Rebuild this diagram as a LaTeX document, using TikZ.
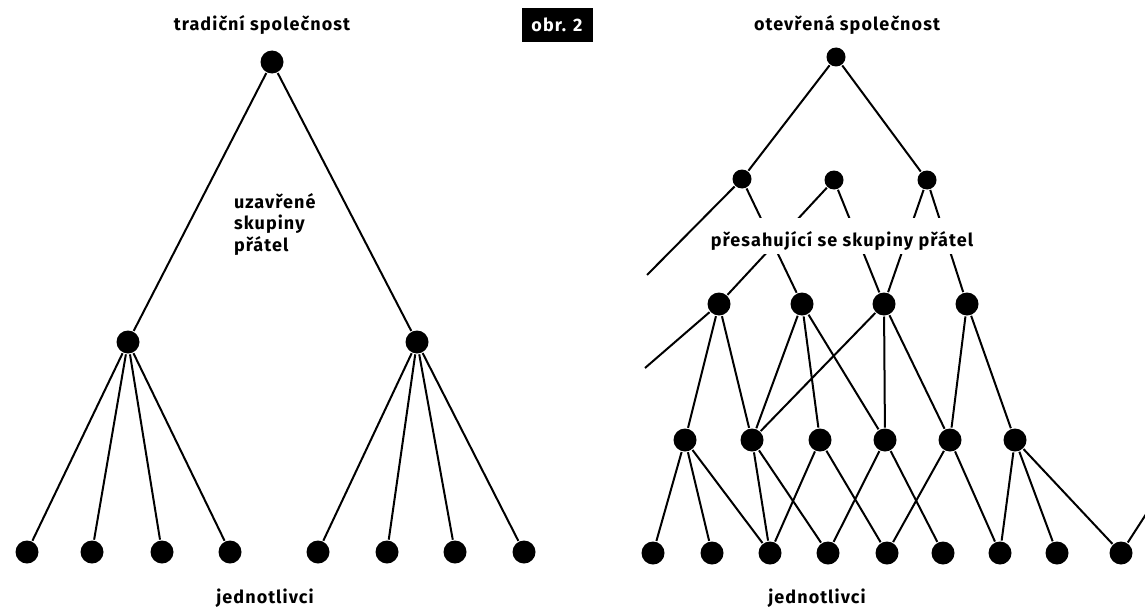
\documentclass[tikz,border=0pt]{standalone}
\usepackage{fontspec}
\setmainfont{Fira Sans}[LetterSpace=6]
\begin{document}
\begin{tikzpicture}[x=1pt,y=-1pt,line width=2pt,
        dot/.style={circle,fill=black,inner sep=0pt,minimum size=23pt},
        smalldot/.style={dot,minimum size=19pt},
        lbl/.style={font=\bfseries\fontsize{18}{21.5}\selectfont,inner sep=0pt}]
        \useasboundingbox (0,0) rectangle (1145,610);
        \clip (0,0) rectangle (1145,610);
        \node[dot] (t) at (272,62) {};
        \node[dot] (t1) at (128,342) {};
        \node[dot] (t2) at (417,342) {};
        \foreach \i/\x in {1/27,2/92,3/162,4/230,5/318,6/387,7/455,8/524}
            \node[dot] (tl\i) at (\x,552) {};
        \draw (t) -- (t1) (t) -- (t2);
        \foreach \i in {1,...,4} \draw (t1) -- (tl\i);
        \foreach \i in {5,...,8} \draw (t2) -- (tl\i);
        \node[lbl] (tnazev) at (262,25) {tradiční společnost};
        \node[lbl,align=left,anchor=north west] (uzavr) at (233,192) {uzavřené\\skupiny\\přátel};
        \node[lbl] (jedn1) at (265,598) {jednotlivci};
        \node[lbl,fill=black,text=white,minimum width=71pt,minimum height=34pt] (obr) at (557,25) {obr. 2};
        \node[smalldot] (o) at (836,57) {};
        \node[smalldot] (a1) at (742,179) {};
        \node[smalldot] (a2) at (834,180) {};
        \node[smalldot] (a3) at (927,180) {};
        \foreach \i/\x in {1/719,2/802,3/884,4/967}
            \node[dot] (b\i) at (\x,304) {};
        \foreach \i/\x in {1/685,2/752,3/820,4/885,5/950,6/1015}
            \node[dot] (c\i) at (\x,440) {};
        \foreach \i/\x in {1/653,2/712,3/770,4/828,5/887,6/943,7/1000,8/1057,9/1121}
            \node[dot] (d\i) at (\x,553) {};
        \coordinate (f1) at (647,275);
        \coordinate (f2) at (645,368);
        \coordinate (f3) at (1150,508);
        \draw (o) -- (a1) (o) -- (a3);
        \foreach \u/\v in {a1/b2,a2/b1,a2/b3,a3/b3,a3/b4,
                b1/c1,b1/c2,b2/c2,b2/c3,b2/c4,b3/c2,b3/c4,b3/c5,b4/c5,b4/c6,
                c1/d1,c1/d2,c1/d3,c2/d3,c2/d4,c3/d3,c3/d5,c4/d4,c4/d6,
                c5/d5,c5/d7,c6/d7,c6/d8,c6/d9}
            \draw (\u) -- (\v);
        \node[lbl,fill=white,inner xsep=2pt,inner ysep=3pt,text height=25.5pt,text depth=4.5pt] (presah) at (842,236) {přesahující se skupiny přátel};
        \draw (a1) -- (f1) (b1) -- (f2) (d9) -- (f3);
        \node[lbl] (onazev) at (847,25) {otevřená společnost};
        \node[lbl] (jedn2) at (817,598) {jednotlivci};
\end{tikzpicture}
\end{document}
